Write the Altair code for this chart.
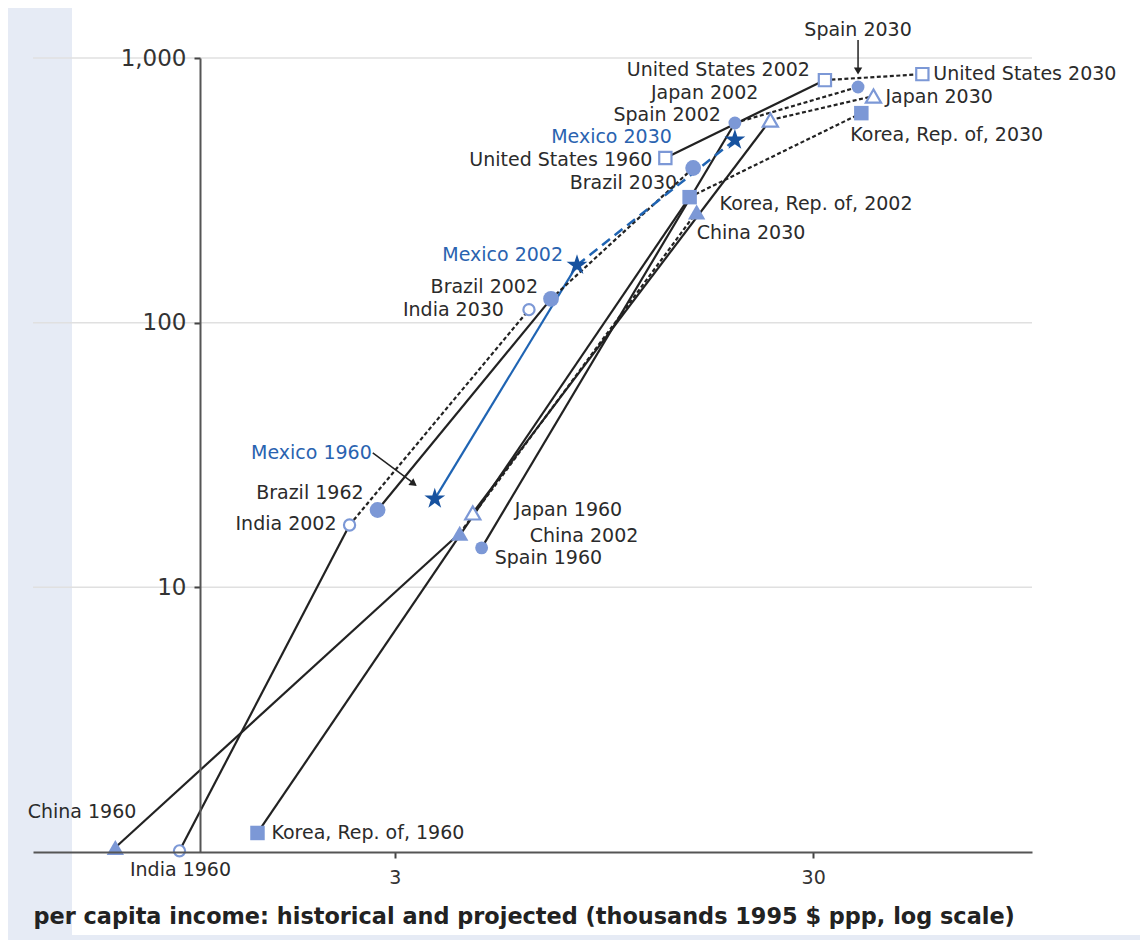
import altair as alt
import pandas as pd

# ---------------- data ----------------
countries = ["China", "India", "Korea, Rep. of,", "Japan", "Spain", "United States", "Brazil", "Mexico"]
start_years = [1960, 1960, 1960, 1960, 1960, 1960, 1962, 1960]
income_start = [0.645, 0.918, 1.41, 4.61, 4.84, 13.3, 2.73, 3.74]
income_2002 = [4.29, 2.34, 15.2, 23.7, 19.5, 32.0, 7.09, 8.18]
income_2030 = [15.8, 6.28, 39.1, 41.8, 38.4, 54.7, 15.5, 19.5]
value_start = [1.04, 1.01, 1.18, 19.1, 14.1, 419, 19.6, 21.6]
value_2002 = [16.0, 17.2, 298, 583, 568, 825, 123, 165]
value_2030 = [262, 112, 619, 718, 777, 869, 384, 490]

y_ticks = [10, 100, 1000]
x_ticks = [3, 30]

# label placement (styling): country, year, align, dx, dy
label_layout = [
    ("China", 1960, "right", 21, -35),
    ("India", 1960, "center", 1, 19),
    ("Korea, Rep. of,", 1960, "left", 14, 0),
    ("China", 2002, "left", 70, 3),
    ("India", 2002, "right", -13, -1),
    ("Japan", 1960, "left", 42, -3),
    ("Spain", 1960, "left", 13, 10),
    ("Brazil", 1962, "right", -14, -17),
    ("Mexico", 1960, "right", -63, -46),
    ("Brazil", 2002, "right", -13, -12),
    ("India", 2030, "right", -25, 0),
    ("Mexico", 2002, "right", -14, -10),
    ("United States", 1960, "right", -13, 2),
    ("Brazil", 2030, "right", -16, 14.5),
    ("Mexico", 2030, "right", -63, -2.5),
    ("Spain", 2002, "right", -14, -8),
    ("Japan", 2002, "right", -12, -27.5),
    ("United States", 2002, "right", -15, -10),
    ("Korea, Rep. of,", 2002, "left", 30, 7),
    ("China", 2030, "left", 0, 21),
    ("Spain", 2030, "center", 0, -57),
    ("United States", 2030, "left", 11, 0),
    ("Japan", 2030, "left", 12, 1),
    ("Korea, Rep. of,", 2030, "left", -11, 22),
]

rows = []
for i, c in enumerate(countries):
    for yr, inc, val in [(start_years[i], income_start[i], value_start[i]),
                         (2002, income_2002[i], value_2002[i]),
                         (2030, income_2030[i], value_2030[i])]:
        rows.append({"country": c, "year": yr, "income": inc, "value": val,
                     "label": f"{c} {yr}"})
df = pd.DataFrame(rows)

FONT = "DejaVu Sans"
MARKER = "#7c98d6"
MEX_LINE = "#1f64b3"
MEX_STAR = "#17529f"
MEX_TEXT = "#2a63b0"
INK = "#222222"

W, H = 999, 794
xscale = alt.Scale(type="log", domain=[0.41, 100], nice=False)
yscale = alt.Scale(type="log", domain=[1, 1000], nice=False)

x_axis = alt.Axis(values=x_ticks, format="d", grid=False, domainColor="#555", domainWidth=2,
                  tickColor="#444", tickWidth=2, tickSize=6, labelFontSize=19, labelColor="#333",
                  labelFont=FONT, labelPadding=10, zindex=2,
                  title="per capita income: historical and projected (thousands 1995 $ ppp, log scale)",
                  titleFont=FONT, titleFontSize=22.4, titleFontWeight="bold", titleColor=INK,
                  titleAnchor="start", titlePadding=18)
y_axis = alt.Axis(values=y_ticks, format=",d", grid=False, offset=-167, domainColor="#555",
                  domainWidth=2, tickColor="#444", tickWidth=2, tickSize=6, labelFontSize=23,
                  labelColor="#333", labelFont=FONT, labelPadding=8, title=None, zindex=2)

X = alt.X("income:Q", scale=xscale, axis=x_axis)
Y = alt.Y("value:Q", scale=yscale, axis=y_axis)

shape_range = ["triangle-up", "circle", "square", "triangle-up", "circle", "square", "circle",
               ("M0,-1L0.2245,-0.309L0.951,-0.309L0.363,0.118L0.588,0.809L0,0.382"
                "L-0.588,0.809L-0.363,0.118L-0.951,-0.309L-0.2245,-0.309Z")]
size_range = [300, 125, 210, 230, 165, 150, 250, 480]
SHAPE = alt.Shape("country:N", scale=alt.Scale(type="ordinal", domain=countries, range=shape_range),
                  legend=None)
SIZE = alt.Size("country:N", scale=alt.Scale(type="ordinal", domain=countries, range=size_range),
                legend=None)

base = alt.Chart(df)

panel = alt.Chart(pd.DataFrame({"a": [0]})).mark_rect(color="white").encode(
    x=alt.value(39), x2=alt.value(1113), y=alt.value(-53), y2=alt.value(877))

grid = alt.Chart(pd.DataFrame({"value": y_ticks})).mark_rule(
    color="#e0e0e0", strokeWidth=1.5).encode(y=alt.Y("value:Q", scale=yscale, axis=y_axis))

line_colors = alt.Color("country:N", scale=alt.Scale(
    domain=countries, range=[INK] * 7 + [MEX_LINE]), legend=None)

solid = base.transform_filter("datum.year < 2030").mark_line(strokeWidth=2.2).encode(
    x=X, y=Y, color=line_colors, order=alt.Order("year:Q"))
dashed = base.transform_filter("datum.year >= 2002 && datum.country != 'Mexico'").mark_line(
    strokeWidth=2.2, strokeDash=[4, 2.5], color=INK).encode(
    x=X, y=Y, detail="country:N", order=alt.Order("year:Q"))
dashed_mex = base.transform_filter("datum.year >= 2002 && datum.country == 'Mexico'").mark_line(
    strokeWidth=2.5, strokeDash=[10, 6], color=MEX_LINE).encode(
    x=X, y=Y, order=alt.Order("year:Q"))

mex_sel = "datum.country == 'Mexico' && datum.year == 1960"
spa_sel = "datum.country == 'Spain' && datum.year == 2030"
arrow1 = base.transform_filter(mex_sel).mark_rule(
    color=INK, strokeWidth=1.5, xOffset=-62, yOffset=-46, x2Offset=-19, y2Offset=-14).encode(
    x=X, y=Y, x2="income:Q", y2="value:Q")
head1 = base.transform_filter(mex_sel).mark_point(
    shape="triangle-right", filled=True, size=70, angle=37, color=INK, opacity=1,
    xOffset=-21, yOffset=-15).encode(x=X, y=Y)
arrow2 = base.transform_filter(spa_sel).mark_rule(
    color=INK, strokeWidth=1.5, yOffset=-47, y2Offset=-16).encode(
    x=X, y=Y, x2="income:Q", y2="value:Q")
head2 = base.transform_filter(spa_sel).mark_point(
    shape="triangle-down", filled=True, size=70, color=INK, opacity=1,
    yOffset=-16).encode(x=X, y=Y)

filled_c = ["China", "Korea, Rep. of,", "Spain", "Brazil"]
filled_pts = base.transform_filter(alt.FieldOneOfPredicate(field="country", oneOf=filled_c)).mark_point(
    filled=True, opacity=1, color=MARKER).encode(x=X, y=Y, shape=SHAPE, size=SIZE)

open_c = ["India", "Japan", "United States"]
open_pts = base.transform_filter(alt.FieldOneOfPredicate(field="country", oneOf=open_c)).mark_point(
    filled=True, fill="white", stroke=MARKER, strokeWidth=2.2, opacity=1).encode(
    x=X, y=Y, shape=SHAPE, size=SIZE)

stars = base.transform_filter("datum.country == 'Mexico'").mark_point(
    filled=True, color=MEX_STAR, opacity=1).encode(x=X, y=Y, shape=SHAPE, size=SIZE)

label_layers = []
for c, yr, al, dx, dy in label_layout:
    col = MEX_TEXT if c == "Mexico" else "#2b2b2b"
    label_layers.append(
        base.transform_filter(f"datum.country == \"{c}\" && datum.year == {yr}").mark_text(
            align=al, baseline="middle", dx=dx, dy=dy, font=FONT, fontSize=19, color=col
        ).encode(x=X, y=Y, text="label:N"))

chart = alt.layer(panel, grid, solid, dashed, dashed_mex, arrow1, head1, arrow2, head2,
                  filled_pts, open_pts, stars, *label_layers).properties(
    width=W, height=H,
    autosize=alt.AutoSizeParams(type="none"),
    padding={"left": 25, "top": 50, "right": 108, "bottom": 88},
    background="#e6ebf5",
).configure_view(stroke=None)

chart.save("out.html", embed_options={"renderer": "svg", "actions": False})
